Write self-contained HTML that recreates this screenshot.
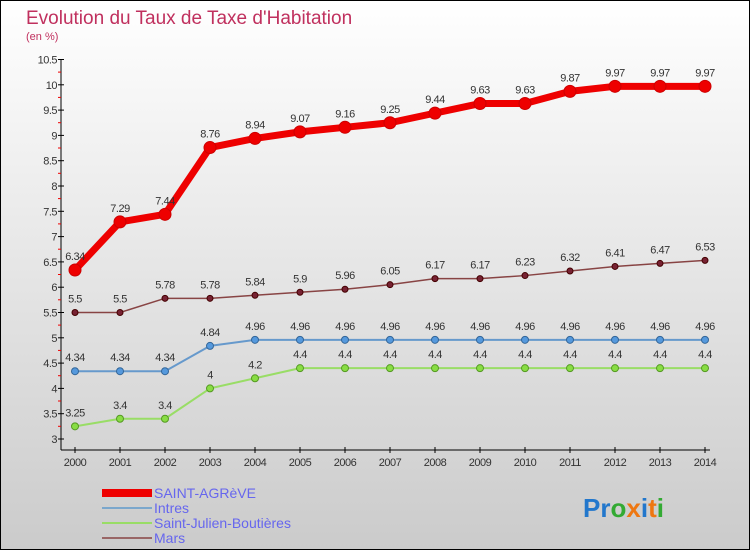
<!DOCTYPE html>
<html><head><meta charset="utf-8"><style>
body{margin:0}
#c{width:750px;height:550px;position:relative;font-family:"Liberation Sans",sans-serif;}
</style></head><body>
<div id="c">
<svg width="750" height="550" xmlns="http://www.w3.org/2000/svg" id="svg">
<defs><linearGradient id="bg" x1="0" y1="0" x2="0" y2="1"><stop offset="0" stop-color="#ffffff"/><stop offset="1" stop-color="#cbcbcb"/></linearGradient></defs>
<rect x="0.5" y="0.5" width="749" height="549" fill="url(#bg)" stroke="#000"/>
<text x="26" y="24" font-size="19" fill="#c0305e">Evolution du Taux de Taxe d'Habitation</text>
<text x="26" y="40" font-size="11" fill="#c0305e">(en %)</text>
<g id="axes"></g><g id="series"></g>
<g font-size="14" fill="#6666ee">
<rect x="102" y="489" width="50" height="8" fill="#ee0000"/>
<text x="154" y="498">SAINT-AGRèVE</text>
<rect x="102" y="507" width="50" height="2" fill="#7ba7cc"/>
<text x="154" y="513">Intres</text>
<rect x="102" y="522" width="50" height="2" fill="#99dd66"/>
<text x="154" y="528">Saint-Julien-Boutières</text>
<rect x="102" y="537" width="50" height="2" fill="#996666"/>
<text x="154" y="543">Mars</text>
</g>
<text x="583" y="517" font-size="26" font-weight="bold"><tspan fill="#2277cc">Pr</tspan><tspan fill="#33aa33">o</tspan><tspan fill="#ee7711">x</tspan><tspan fill="#2277cc">i</tspan><tspan fill="#ee7711">t</tspan><tspan fill="#33aa33">i</tspan></text>
</svg>
</div>
<script>
const years=[2000,2001,2002,2003,2004,2005,2006,2007,2008,2009,2010,2011,2012,2013,2014];
const yTicks=[3,3.5,4,4.5,5,5.5,6,6.5,7,7.5,8,8.5,9,9.5,10,10.5];
const saintAgreve=[6.34,7.29,7.44,8.76,8.94,9.07,9.16,9.25,9.44,9.63,9.63,9.87,9.97,9.97,9.97];
const intres=[4.34,4.34,4.34,4.84,4.96,4.96,4.96,4.96,4.96,4.96,4.96,4.96,4.96,4.96,4.96];
const saintJulien=[3.25,3.4,3.4,4,4.2,4.4,4.4,4.4,4.4,4.4,4.4,4.4,4.4,4.4,4.4];
const mars=[5.5,5.5,5.78,5.78,5.84,5.9,5.96,6.05,6.17,6.17,6.23,6.32,6.41,6.47,6.53];
const NS="http://www.w3.org/2000/svg";
const X=i=>75+i*45;
const Y=v=>439-(v-3)*50.6;
function mk(t,a,p){const e=document.createElementNS(NS,t);for(const k in a)e.setAttribute(k,a[k]);p.appendChild(e);return e;}
const ax=document.getElementById('axes');
let l=mk('line',{x1:61,y1:Y(10.5),x2:61,y2:450,stroke:'#000'},ax);


l=mk('line',{x1:61,y1:450,x2:710,y2:450,stroke:'#000'},ax);


yTicks.forEach(v=>{
 mk('line',{x1:58,y1:Y(v),x2:64,y2:Y(v),stroke:'#000'},ax);
 mk('line',{x1:58,y1:Y(v)+12.6,x2:61,y2:Y(v)+12.6,stroke:v>3?'#e00':'none'},ax);
 const t=mk('text',{x:57,y:Y(v)+4,'font-size':11,'text-anchor':'end',fill:'#333','letter-spacing':'-0.5'},ax);
 t.textContent=String(v);
 
 
});
years.forEach((y,i)=>{
 mk('line',{x1:X(i),y1:447,x2:X(i),y2:453,stroke:'#000'},ax);
 const t=mk('text',{x:X(i),y:466,'font-size':11,'text-anchor':'middle',fill:'#333','letter-spacing':'-0.5'},ax);
 t.textContent=y;
 
 
});
const sg=document.getElementById('series');
function series(name,d,color,w,r,dot,stroke){
 const g=mk('g',{},sg);
 
 
 mk('polyline',{points:d.map((v,i)=>X(i)+','+Y(v)).join(' '),fill:'none',stroke:color,'stroke-width':w,'stroke-linejoin':'round'},g);
 d.forEach((v,i)=>{
  const c=mk('circle',{cx:X(i),cy:Y(v),r:r,fill:dot,stroke:stroke,'stroke-width':1},g);
  
  
  const t=mk('text',{x:X(i),y:Y(v)-10,'font-size':11,'text-anchor':'middle',fill:'#333','letter-spacing':'-0.5'},g);
  t.textContent=String(v);
  
  
 });
}
series('saint-julien',saintJulien,'#99dd66',2,3.5,'#88dd44','#559922');
series('intres',intres,'#6699cc',2,3.5,'#5599dd','#336699');
series('mars',mars,'#884444',1.5,3,'#772233','#440000');
series('saint-agreve',saintAgreve,'#ee0000',7,6,'#ee0000','#cc0000');
</script>
</body></html>
